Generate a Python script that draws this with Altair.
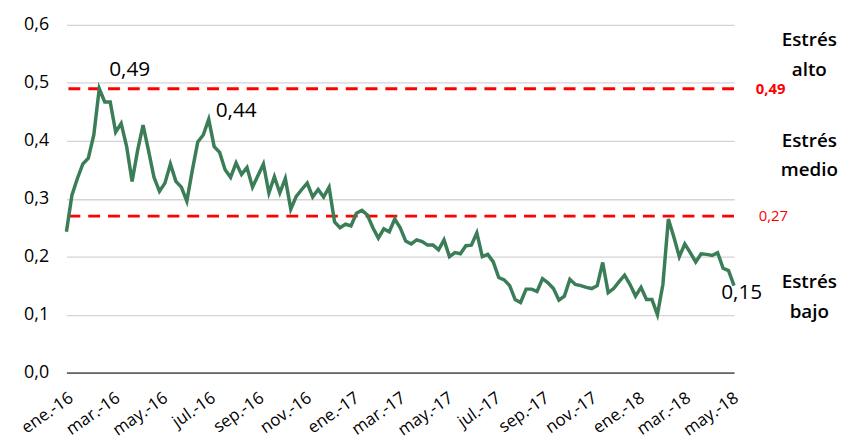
import altair as alt
import pandas as pd

# Weekly stress indicator values (Jan 2016 - May 2018)
values = [
    0.243, 0.306, 0.335, 0.360, 0.370, 0.410, 0.490, 0.467, 0.467, 0.415,
    0.430, 0.390, 0.330, 0.383, 0.427, 0.383, 0.337, 0.313, 0.327, 0.360,
    0.330, 0.320, 0.296, 0.349, 0.398, 0.410, 0.437, 0.390, 0.380, 0.350,
    0.337, 0.362, 0.342, 0.354, 0.320, 0.340, 0.360, 0.310, 0.338, 0.310,
    0.335, 0.282, 0.304, 0.316, 0.327, 0.303, 0.316, 0.303, 0.320, 0.260,
    0.250, 0.256, 0.253, 0.275, 0.280, 0.272, 0.250, 0.232, 0.248, 0.243,
    0.265, 0.250, 0.227, 0.222, 0.229, 0.226, 0.220, 0.220, 0.212, 0.229,
    0.200, 0.207, 0.205, 0.219, 0.220, 0.241, 0.200, 0.204, 0.191, 0.164,
    0.160, 0.150, 0.126, 0.121, 0.144, 0.144, 0.140, 0.162, 0.155, 0.145,
    0.125, 0.132, 0.161, 0.152, 0.150, 0.147, 0.145, 0.150, 0.190, 0.138,
    0.145, 0.157, 0.168, 0.152, 0.132, 0.147, 0.126, 0.126, 0.100, 0.152,
    0.265, 0.234, 0.200, 0.222, 0.207, 0.191, 0.205, 0.204, 0.202, 0.207,
    0.180, 0.176, 0.150,
]
start_date = "2016-01-01"
dates = pd.date_range(start_date, periods=len(values), freq="7D")

months_es = ["ene.", "feb.", "mar.", "abr.", "may.", "jun.",
             "jul.", "ago.", "sep.", "oct.", "nov.", "dic."]
tick_years = [2016] * 6 + [2017] * 6 + [2018] * 3
tick_months = [1, 3, 5, 7, 9, 11, 1, 3, 5, 7, 9, 11, 1, 3, 5]
y_ticks = [0.0, 0.1, 0.2, 0.3, 0.4, 0.5, 0.6]

thresholds = [0.49, 0.27]
threshold_labels = ["0,49", "0,27"]

zone_labels = ["Estrés\nalto", "Estrés\nmedio", "Estrés\nbajo"]
zone_y = [0.574, 0.40, 0.156]

annot_idx = [6, 26, len(values) - 1]
annot_text = ["0,49", "0,44", "0,15"]

W, H = 674, 351
FONT = "Open Sans"

df = pd.DataFrame({"fecha": dates, "valor": values})
thr = pd.DataFrame({"v": thresholds, "t": threshold_labels})
zones = pd.DataFrame({"y": zone_y, "t": zone_labels})
ann = pd.DataFrame({
    "fecha": [dates[i] for i in annot_idx],
    "valor": [values[i] for i in annot_idx],
    "t": annot_text,
})

month_arr = "[" + ",".join("'" + m + "'" for m in months_es) + "]"
x_values = [alt.DateTime(year=y, month=m, date=1) for y, m in zip(tick_years, tick_months)]

x_scale = alt.Scale(domain=[alt.DateTime(year=2016, month=1, date=1),
                            alt.DateTime(year=2018, month=5, date=4)], nice=False)
y_scale = alt.Scale(domain=[0, 0.6], nice=False)

x_enc = alt.X("fecha:T", scale=x_scale, title=None,
              axis=alt.Axis(values=x_values,
                            labelExpr=month_arr + "[month(datum.value)] + '-' + timeFormat(datum.value, '%y')",
                            labelAngle=-35, labelAlign="right", labelBaseline="top",
                            labelPadding=17, labelFontSize=17, labelFont=FONT, labelColor="#000000",
                            grid=False, ticks=False, domainColor="#000000", domainWidth=1,
                            labelOverlap=False, labelFlush=False))
y_enc = alt.Y("valor:Q", scale=y_scale, title=None,
              axis=alt.Axis(values=y_ticks,
                            labelExpr="replace(format(datum.value, '.1f'), '.', ',')",
                            labelFontSize=18, labelFont=FONT, labelColor="#000000",
                            labelPadding=18, domain=False, ticks=False,
                            gridColor="#d4d4d4", gridWidth=1.3))

line = alt.Chart(df).mark_line(color="#3a7d56", strokeWidth=3.5).encode(x=x_enc, y=y_enc)

rules = alt.Chart(thr).mark_rule(color="#ff0000", strokeWidth=3, strokeDash=[12, 8]).encode(
    y=alt.Y("v:Q", scale=y_scale))

thr_hi = alt.Chart(thr[thr.v == 0.49]).mark_text(
    align="left", baseline="middle", color="#ff0000", fontSize=15, fontWeight="bold", font=FONT
).encode(y=alt.Y("v:Q", scale=y_scale), x=alt.value(W + 22), text="t:N")
thr_lo = alt.Chart(thr[thr.v == 0.27]).mark_text(
    align="left", baseline="middle", color="#ff0000", fontSize=15, font=FONT
).encode(y=alt.Y("v:Q", scale=y_scale), x=alt.value(W + 25), text="t:N")

zone_text = alt.Chart(zones).mark_text(
    align="center", baseline="middle", lineBreak="\n", fontSize=19, fontWeight=600,
    font=FONT, color="#000000", lineHeight=30
).encode(y=alt.Y("y:Q", scale=y_scale), x=alt.value(W + 76), text="t:N")

offsets = [(10, -19, "left"), (7, -8, "left"), (-13, 7, "left")]
ann_layers = []
for (dx, dy, al), t in zip(offsets, annot_text):
    ann_layers.append(
        alt.Chart(ann[ann.t == t]).mark_text(
            align=al, baseline="middle", dx=dx, dy=dy, fontSize=21, font=FONT, color="#000000"
        ).encode(x=alt.X("fecha:T", scale=x_scale), y=alt.Y("valor:Q", scale=y_scale), text="t:N")
    )

chart = alt.layer(rules, line, thr_hi, thr_lo, zone_text, *ann_layers).properties(
    width=W, height=H,
    autosize=alt.AutoSizeParams(type="none"),
    padding={"left": 59, "top": 15, "right": 108, "bottom": 67},
).configure_view(stroke=None)

chart.save("out.html", embed_options={"renderer": "svg", "actions": False})
